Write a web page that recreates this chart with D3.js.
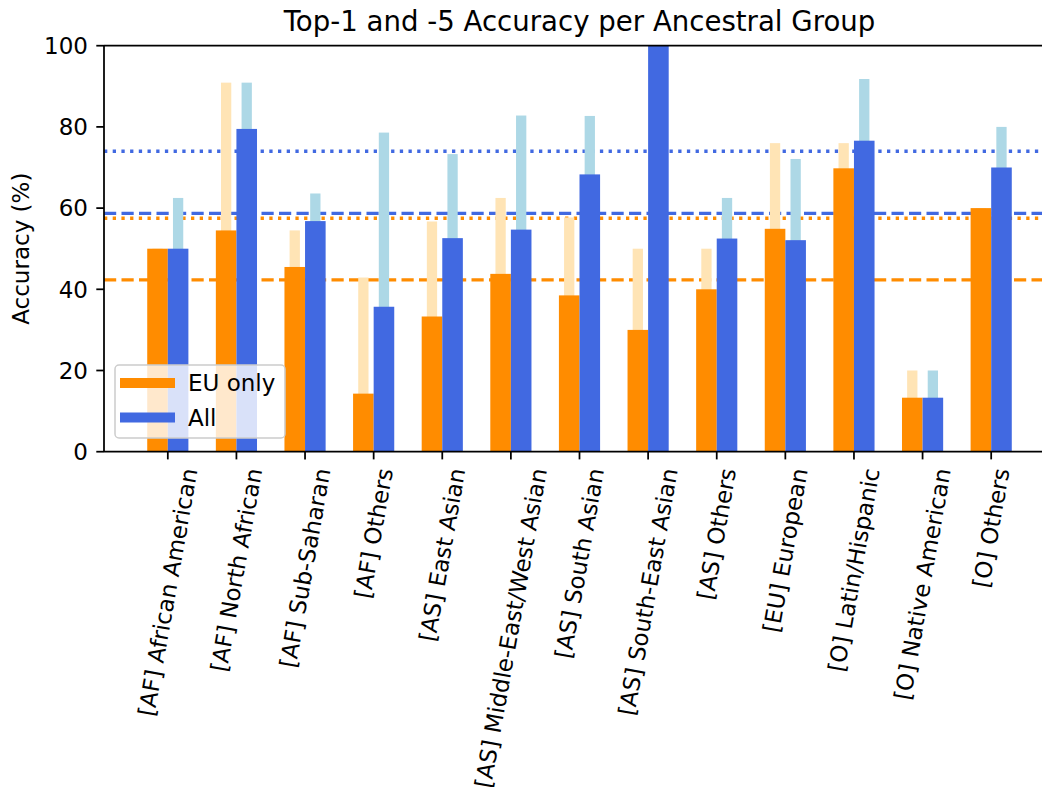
<!DOCTYPE html>
<html>
<head>
<meta charset="utf-8">
<script src="https://cdn.jsdelivr.net/npm/d3@7"></script>
<style>
  body { margin: 0; background: #fff; }
  svg { display: block; font-family: 'DejaVu Sans', sans-serif; }
</style>
</head>
<body>
<svg id="chart" width="1042" height="787"></svg>
<script>
const categories = [
  '[AF] African American', '[AF] North African', '[AF] Sub-Saharan', '[AF] Others',
  '[AS] East Asian', '[AS] Middle-East/West Asian', '[AS] South Asian',
  '[AS] South-East Asian', '[AS] Others', '[EU] European',
  '[O] Latin/Hispanic', '[O] Native American', '[O] Others'
]
const euTop1 = [50, 54.5, 45.5, 14.3, 33.3, 43.8, 38.5, 30, 40, 54.9, 69.8, 13.3, 60]
const euTop5 = [50, 90.9, 54.5, 42.9, 56.7, 62.5, 57.7, 50, 50, 76, 76, 20, 60]
const allTop1 = [50, 79.5, 56.8, 35.7, 52.6, 54.7, 68.3, 100, 52.5, 52.1, 76.6, 13.3, 70]
const allTop5 = [62.5, 90.9, 63.6, 78.6, 73.3, 82.8, 82.7, 100, 62.5, 72.1, 91.8, 20, 80]
// mean lines: top-1 dashed, top-5 dotted
const euMeans = [42.3, 57.5]
const allMeans = [58.7, 74.0]
const yTicks = [0, 20, 40, 60, 80, 100]

const orange = '#ff8c00'
const orangeLight = '#ffe4b5'
const blue = '#4169e1'
const blueLight = '#add8e6'

const plotLeft = 104
const plotRight = 1055
const plotTop = 45.7
const plotBottom = 451.7
const barW = 0.3
const fs = 23

const svg = d3.select('#chart')
const x = d3.scaleLinear().domain([-0.93, 12.93]).range([plotLeft, plotRight])
const y = d3.scaleLinear().domain([0, 100]).range([plotBottom, plotTop])
const idx = categories.map((d, i) => i)

// horizontal means, behind the bars
const lines = svg.append('g')
const meanLine = (v, color, dash) => {
  lines.append('line')
    .attr('x1', plotLeft).attr('x2', plotRight)
    .attr('y1', y(v)).attr('y2', y(v))
    .attr('stroke', color)
    .attr('stroke-width', 3.3)
    .attr('stroke-dasharray', dash)
}
meanLine(euMeans[0], orange, '12.2,5.3')
meanLine(euMeans[1], orange, '3.3,5.4')
meanLine(allMeans[0], blue, '12.2,5.3')
meanLine(allMeans[1], blue, '3.3,5.4')

const bars = (vals, offset, width, color) => {
  svg.append('g').selectAll('rect')
    .data(idx)
    .join('rect')
    .attr('x', i => x(i + offset - width / 2))
    .attr('width', x(width) - x(0))
    .attr('y', i => y(vals[i]))
    .attr('height', i => y(0) - y(vals[i]))
    .attr('fill', color)
}
bars(euTop5, -barW / 2, barW / 2, orangeLight)
bars(allTop5, barW / 2, barW / 2, blueLight)
bars(euTop1, -barW / 2, barW, orange)
bars(allTop1, barW / 2, barW, blue)

// spines
const spine = (x1, y1, x2, y2) => svg.append('line')
  .attr('x1', x1).attr('y1', y1).attr('x2', x2).attr('y2', y2)
  .attr('stroke', '#000').attr('stroke-width', 1.76)
spine(plotLeft, plotTop, plotLeft, plotBottom)
spine(plotLeft, plotBottom, plotRight, plotBottom)
spine(plotLeft, plotTop, plotRight, plotTop)
spine(plotRight, plotTop, plotRight, plotBottom)

// y axis
const yAxis = svg.append('g')
yAxis.selectAll('line')
  .data(yTicks)
  .join('line')
  .attr('x1', plotLeft - 7.7).attr('x2', plotLeft)
  .attr('y1', d => y(d)).attr('y2', d => y(d))
  .attr('stroke', '#000').attr('stroke-width', 1.76)
yAxis.selectAll('text')
  .data(yTicks)
  .join('text')
  .attr('x', plotLeft - 16)
  .attr('y', d => y(d))
  .attr('dy', '0.36em')
  .attr('text-anchor', 'end')
  .attr('font-size', fs)
  .text(d => d)

// x axis, labels rotated 80 degrees and centred on the tick
const xAxis = svg.append('g')
xAxis.selectAll('line')
  .data(idx)
  .join('line')
  .attr('x1', i => x(i)).attr('x2', i => x(i))
  .attr('y1', plotBottom).attr('y2', plotBottom + 7.7)
  .attr('stroke', '#000').attr('stroke-width', 1.76)
const labelTop = plotBottom + 14.5
const h = 27
xAxis.selectAll('text')
  .data(idx)
  .join('text')
  .attr('font-size', fs)
  .attr('text-anchor', 'end')
  .attr('dominant-baseline', 'central')
  .text(i => categories[i])
  .attr('transform', function (i) {
    const L = this.getComputedTextLength()
    const ax = x(i) + 0.087 * L
    const ay = labelTop + 0.087 * h
    return 'translate(' + ax + ',' + ay + ') rotate(-80)'
  })

svg.append('text')
  .attr('transform', 'translate(29,' + ((plotTop + plotBottom) / 2) + ') rotate(-90)')
  .attr('text-anchor', 'middle')
  .attr('font-size', fs)
  .text('Accuracy (%)')

svg.append('text')
  .attr('x', (plotLeft + plotRight) / 2)
  .attr('y', 31)
  .attr('text-anchor', 'middle')
  .attr('font-size', 27.6)
  .text('Top-1 and -5 Accuracy per Ancestral Group')

// legend
const legend = svg.append('g')
legend.append('rect')
  .attr('x', 115).attr('y', 365)
  .attr('width', 170).attr('height', 73)
  .attr('rx', 4)
  .attr('fill', '#fff').attr('fill-opacity', 0.8)
  .attr('stroke', '#cccccc').attr('stroke-width', 1.5)
const entries = [['EU only', orange], ['All', blue]]
entries.forEach((e, k) => {
  const cy = 383 + k * 34.5
  legend.append('rect')
    .attr('x', 120).attr('y', cy - 5)
    .attr('width', 55).attr('height', 10)
    .attr('fill', e[1])
  legend.append('text')
    .attr('x', 188).attr('y', cy)
    .attr('dy', '0.36em')
    .attr('font-size', fs)
    .text(e[0])
})
</script>
</body>
</html>
